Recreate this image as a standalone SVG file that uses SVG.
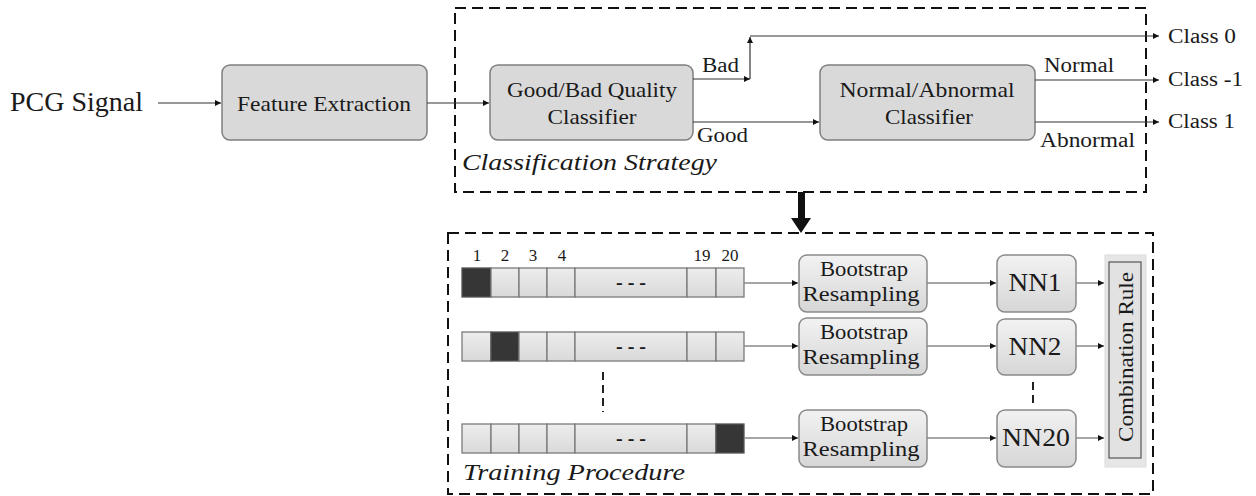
<svg xmlns="http://www.w3.org/2000/svg" width="1256" height="496" viewBox="0 0 1256 496">
<style>
text{font-family:"Times New Roman","Liberation Serif",Tinos,"Nimbus Roman",Times,serif;fill:#1a1a1a}
.box{fill:#d9d9d9;stroke:#7f7f7f;stroke-width:1.5}
.box2{fill:url(#g1);stroke:#8a8a8a;stroke-width:1.5}
.dash{fill:none;stroke:#111;stroke-width:2;stroke-dasharray:11 6}
.ln{fill:none;stroke:#333;stroke-width:1.2;marker-end:url(#ah)}
.ln2{fill:none;stroke:#888;stroke-width:1.5;marker-end:url(#ah)}
.cell{fill:url(#g2);stroke:#7a7a7a;stroke-width:1.3}
.dark{fill:#363636;stroke:#555;stroke-width:1.3}
.vd{fill:none;stroke:#222;stroke-width:2;stroke-dasharray:8 5}
.it{font-style:italic}
</style>
<defs>
<marker id="ah" markerUnits="userSpaceOnUse" markerWidth="7" markerHeight="7" refX="6" refY="3" orient="auto"><path d="M0,0 L6,3 L0,6 z" fill="#111"/></marker>
<linearGradient id="g1" x1="0" y1="0" x2="0" y2="1"><stop offset="0" stop-color="#f2f2f2"/><stop offset="1" stop-color="#d6d6d6"/></linearGradient>
<linearGradient id="g2" x1="0" y1="0" x2="0" y2="1"><stop offset="0" stop-color="#ededed"/><stop offset="1" stop-color="#d9d9d9"/></linearGradient>
</defs>

<g id="pcg-signal"><text x="10" y="111" font-size="27" textLength="133" lengthAdjust="spacingAndGlyphs">PCG Signal</text></g>

<g id="feature-extraction"><rect class="box" x="222" y="65" width="205" height="75" rx="8"/><text x="324" y="111" font-size="22" text-anchor="middle" textLength="174" lengthAdjust="spacingAndGlyphs">Feature Extraction</text></g>

<g id="classification-strategy"><rect class="dash" x="455" y="8" width="691" height="184"/><text class="it" x="462" y="170" font-size="24" textLength="255" lengthAdjust="spacingAndGlyphs">Classification Strategy</text></g>

<g id="quality-classifier"><rect class="box" x="490" y="65" width="203" height="75" rx="8"/><text x="592" y="97" font-size="22" text-anchor="middle" textLength="170" lengthAdjust="spacingAndGlyphs">Good/Bad Quality</text><text x="592" y="124" font-size="22" text-anchor="middle" textLength="89" lengthAdjust="spacingAndGlyphs">Classifier</text></g>

<g id="normal-classifier"><rect class="box" x="820" y="65" width="215" height="75" rx="8"/><text x="927" y="97" font-size="22" text-anchor="middle" textLength="175" lengthAdjust="spacingAndGlyphs">Normal/Abnormal</text><text x="929" y="124" font-size="22" text-anchor="middle" textLength="88" lengthAdjust="spacingAndGlyphs">Classifier</text></g>

<g id="labels-top">
<text x="702" y="72" font-size="20" textLength="37" lengthAdjust="spacingAndGlyphs">Bad</text>
<text x="697" y="142" font-size="20" textLength="51" lengthAdjust="spacingAndGlyphs">Good</text>
<text x="1044" y="72" font-size="20" textLength="70" lengthAdjust="spacingAndGlyphs">Normal</text>
<text x="1040" y="147" font-size="20" textLength="95" lengthAdjust="spacingAndGlyphs">Abnormal</text>
</g>

<g id="class0"><text x="1168" y="43" font-size="20" textLength="68" lengthAdjust="spacingAndGlyphs">Class 0</text></g>
<g id="class-1"><text x="1168" y="86" font-size="20" textLength="75" lengthAdjust="spacingAndGlyphs">Class -1</text></g>
<g id="class1"><text x="1168" y="128" font-size="20" textLength="67" lengthAdjust="spacingAndGlyphs">Class 1</text></g>

<g id="training-procedure"><rect class="dash" x="448" y="233" width="705" height="261"/><text class="it" x="463" y="480" font-size="24" textLength="222" lengthAdjust="spacingAndGlyphs">Training Procedure</text></g>

<g id="fold-labels" font-size="17">
<text x="477" y="261" text-anchor="middle">1</text>
<text x="505" y="261" text-anchor="middle">2</text>
<text x="533" y="261" text-anchor="middle">3</text>
<text x="562" y="261" text-anchor="middle">4</text>
<text x="702" y="261" text-anchor="middle">19</text>
<text x="730" y="261" text-anchor="middle">20</text>
</g>

<g id="bar1">
<rect class="dark" x="462" y="268" width="29" height="29"/>
<rect class="cell" x="491" y="268" width="28" height="29"/>
<rect class="cell" x="519" y="268" width="28" height="29"/>
<rect class="cell" x="547" y="268" width="28" height="29"/>
<rect class="cell" x="575" y="268" width="112" height="29"/>
<rect class="cell" x="687" y="268" width="29" height="29"/>
<rect class="cell" x="716" y="268" width="28" height="29"/>
<text x="631" y="289" font-size="20" text-anchor="middle" font-weight="bold">- - -</text>
</g>
<g id="bar2">
<rect class="cell" x="462" y="332" width="29" height="29"/>
<rect class="dark" x="491" y="332" width="28" height="29"/>
<rect class="cell" x="519" y="332" width="28" height="29"/>
<rect class="cell" x="547" y="332" width="28" height="29"/>
<rect class="cell" x="575" y="332" width="112" height="29"/>
<rect class="cell" x="687" y="332" width="29" height="29"/>
<rect class="cell" x="716" y="332" width="28" height="29"/>
<text x="631" y="353" font-size="20" text-anchor="middle" font-weight="bold">- - -</text>
</g>
<g id="bar20">
<rect class="cell" x="462" y="424" width="29" height="29"/>
<rect class="cell" x="491" y="424" width="28" height="29"/>
<rect class="cell" x="519" y="424" width="28" height="29"/>
<rect class="cell" x="547" y="424" width="28" height="29"/>
<rect class="cell" x="575" y="424" width="112" height="29"/>
<rect class="cell" x="687" y="424" width="29" height="29"/>
<rect class="dark" x="716" y="424" width="28" height="29"/>
<text x="631" y="445" font-size="20" text-anchor="middle" font-weight="bold">- - -</text>
</g>

<g id="bootstrap1"><rect class="box2" x="799" y="255" width="128" height="57" rx="8"/><text x="864" y="276" font-size="20" text-anchor="middle" textLength="88" lengthAdjust="spacingAndGlyphs">Bootstrap</text><text x="861" y="301" font-size="20" text-anchor="middle" textLength="117" lengthAdjust="spacingAndGlyphs">Resampling</text></g>
<g id="bootstrap2"><rect class="box2" x="799" y="318" width="128" height="57" rx="8"/><text x="864" y="339" font-size="20" text-anchor="middle" textLength="88" lengthAdjust="spacingAndGlyphs">Bootstrap</text><text x="861" y="364" font-size="20" text-anchor="middle" textLength="117" lengthAdjust="spacingAndGlyphs">Resampling</text></g>
<g id="bootstrap20"><rect class="box2" x="799" y="410" width="128" height="57" rx="8"/><text x="864" y="431" font-size="20" text-anchor="middle" textLength="88" lengthAdjust="spacingAndGlyphs">Bootstrap</text><text x="861" y="456" font-size="20" text-anchor="middle" textLength="117" lengthAdjust="spacingAndGlyphs">Resampling</text></g>

<g id="nn1"><rect class="box2" x="997" y="255" width="79" height="57" rx="8"/><text x="1035" y="291" font-size="26" text-anchor="middle" textLength="53" lengthAdjust="spacingAndGlyphs">NN1</text></g>
<g id="nn2"><rect class="box2" x="997" y="319" width="79" height="56" rx="8"/><text x="1035" y="355" font-size="26" text-anchor="middle" textLength="53" lengthAdjust="spacingAndGlyphs">NN2</text></g>
<g id="nn20"><rect class="box2" x="997" y="410" width="79" height="57" rx="8"/><text x="1036" y="446" font-size="26" text-anchor="middle" textLength="68" lengthAdjust="spacingAndGlyphs">NN20</text></g>

<g id="combination-rule"><rect x="1105" y="255" width="41" height="212" fill="#e6e6e6" stroke="#dcdcdc" stroke-width="1"/><rect x="1109" y="262" width="32" height="196" fill="#e2e2e2" stroke="#555" stroke-width="1.2"/><text transform="translate(1133,357) rotate(-90)" font-size="21" text-anchor="middle" textLength="170" lengthAdjust="spacingAndGlyphs">Combination Rule</text></g>

<g id="connectors">
<path class="ln" d="M158,103 H221"/>
<path class="ln" d="M427,103 H489"/>
<path class="ln" d="M693,79 H750"/>
<path class="ln" d="M750,79 V37"/>
<path class="ln" d="M750,36 H1159"/>
<path class="ln" d="M693,122 H819"/>
<path class="ln" d="M1035,80 H1159"/>
<path class="ln" d="M1035,122 H1159"/>
<path d="M798,192 V218 H791 L801,233 L811,218 H805 V192 z" fill="#111"/>
<path class="ln2" d="M744,283 H798"/>
<path class="ln2" d="M744,346 H798"/>
<path class="ln2" d="M744,438 H798"/>
<path class="ln2" d="M927,283 H996"/>
<path class="ln2" d="M927,346 H996"/>
<path class="ln2" d="M927,438 H996"/>
<path class="ln2" d="M1076,283 H1104"/>
<path class="ln2" d="M1076,346 H1104"/>
<path class="ln2" d="M1076,438 H1104"/>
<path class="vd" d="M603,372 V412"/>
<path class="vd" d="M1033,382 V405"/>
</g>
</svg>
